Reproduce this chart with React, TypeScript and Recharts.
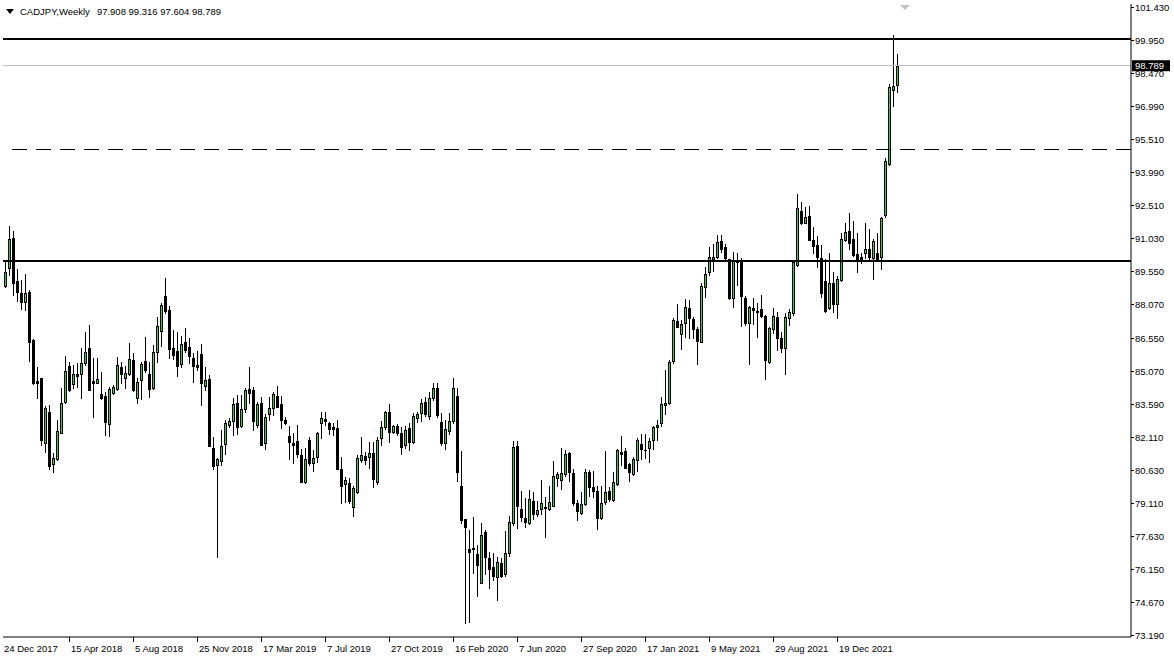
import React from 'react';
import { ComposedChart, Bar, XAxis, YAxis, ReferenceLine, ReferenceArea } from 'recharts';

const FONT = '"Liberation Sans", Arial, sans-serif';
const UP_COLOR = '#22dd22';

const symbolTitle = 'CADJPY,Weekly';
const lastQuote = '97.908 99.316 97.604 98.789';
const firstWeek = Date.UTC(2017, 11, 24);
const MONTHS = ['Jan', 'Feb', 'Mar', 'Apr', 'May', 'Jun', 'Jul', 'Aug', 'Sep', 'Oct', 'Nov', 'Dec'];

const opens = [
  88.90, 89.71, 91.03, 89.11, 88.57, 88.18, 88.60, 86.44, 84.63, 84.73,
  81.81, 83.23, 80.86, 81.12, 82.29, 83.68, 85.29, 84.46, 84.93, 84.91,
  85.44, 86.11, 84.61, 84.51, 84.03, 83.94, 82.69, 84.06, 84.25, 85.23,
  84.73, 84.94, 85.56, 83.83, 84.66, 85.51, 84.93, 84.28, 85.91, 86.88,
  88.43, 87.80, 86.08, 85.96, 85.39, 86.37, 86.13, 85.65, 85.33, 85.81,
  84.40, 84.70, 81.58, 80.82, 81.03, 81.79, 82.65, 82.83, 83.61, 82.60,
  83.34, 84.25, 84.21, 82.63, 83.62, 81.84, 83.14, 83.40, 83.94, 83.56,
  82.86, 82.15, 81.81, 81.91, 81.28, 80.09, 81.96, 80.91, 81.18, 82.71,
  82.90, 82.71, 82.53, 82.48, 80.66, 79.97, 80.01, 78.93, 79.61, 81.06,
  81.24, 81.21, 81.39, 80.06, 82.06, 82.53, 83.20, 82.33, 82.59, 82.26,
  81.73, 82.48, 81.88, 82.93, 83.19, 83.67, 83.04, 83.83, 84.28, 82.78,
  81.84, 82.36, 82.83, 83.94, 79.89, 78.39, 77.06, 77.09, 76.83, 75.54,
  77.81, 76.64, 76.23, 75.78, 76.41, 75.93, 76.86, 78.24, 81.69, 78.84,
  78.44, 78.24, 79.22, 78.63, 78.84, 78.96, 78.84, 79.01, 80.27, 80.16,
  80.42, 81.36, 80.46, 79.11, 78.69, 79.08, 80.51, 79.86, 79.67, 78.44,
  79.19, 79.67, 79.26, 79.97, 81.40, 81.46, 80.86, 80.42, 81.06, 81.76,
  81.51, 81.58, 81.94, 82.53, 82.71, 83.53, 83.61, 85.51, 87.31, 86.71,
  87.20, 87.88, 87.40, 86.95, 86.38, 88.82, 89.50, 90.11, 90.20, 90.89,
  90.62, 90.08, 88.33, 90.05, 90.05, 88.33, 87.20, 87.88, 87.76, 87.85,
  87.54, 85.48, 86.94, 87.47, 86.55, 86.08, 87.43, 87.66, 89.83, 92.26,
  91.73, 92.03, 90.95, 90.73, 90.13, 89.11, 87.88, 89.00, 88.06, 89.15,
  90.95, 91.37, 90.98, 90.32, 90.17, 90.38, 90.53, 90.16, 90.38, 90.20,
  92.08, 94.37, 97.72, 97.908,
];

const highs = [
  89.98, 91.60, 91.36, 89.65, 89.14, 89.41, 88.69, 86.50, 85.26, 84.75,
  83.49, 83.53, 81.36, 82.86, 84.28, 85.74, 85.48, 85.33, 85.44, 86.08,
  86.83, 87.13, 85.63, 85.63, 85.03, 84.13, 84.36, 84.43, 85.69, 85.48,
  85.30, 86.32, 85.89, 84.73, 85.45, 86.58, 85.48, 86.23, 87.50, 88.10,
  89.24, 87.98, 86.90, 86.83, 86.65, 86.98, 86.53, 85.86, 85.96, 86.28,
  85.23, 84.88, 82.11, 81.15, 82.41, 82.86, 82.93, 83.86, 83.98, 83.98,
  84.31, 85.24, 84.33, 83.68, 83.91, 83.13, 83.88, 84.12, 84.39, 83.94,
  83.01, 82.59, 82.26, 82.63, 81.54, 81.58, 82.11, 81.51, 82.33, 83.23,
  83.23, 82.78, 82.71, 82.86, 81.18, 80.28, 80.24, 79.89, 81.28, 82.11,
  81.43, 81.88, 81.88, 82.11, 82.83, 83.26, 83.59, 82.63, 82.66, 82.53,
  82.59, 82.71, 83.19, 83.23, 83.79, 83.91, 84.13, 84.51, 84.51, 83.16,
  82.86, 83.16, 84.73, 84.28, 81.46, 78.39, 77.91, 78.51, 77.24, 78.21,
  77.91, 76.94, 76.86, 76.68, 76.64, 77.88, 78.54, 81.91, 81.91, 79.67,
  79.34, 79.71, 79.64, 79.23, 80.16, 79.41, 79.89, 81.03, 80.54, 81.58,
  81.51, 81.43, 80.65, 79.26, 79.61, 80.65, 80.61, 80.57, 79.89, 79.89,
  81.46, 79.86, 80.51, 81.54, 82.14, 81.58, 80.94, 81.18, 82.03, 82.21,
  82.23, 82.03, 82.60, 82.86, 83.88, 85.11, 85.56, 87.43, 88.07, 87.36,
  88.28, 88.25, 87.50, 87.03, 89.03, 89.75, 90.65, 90.77, 91.18, 91.18,
  90.77, 90.10, 90.40, 90.35, 90.16, 88.43, 87.98, 88.33, 88.13, 88.48,
  87.56, 87.03, 87.91, 87.73, 86.83, 87.66, 87.83, 90.05, 93.02, 92.68,
  92.45, 92.48, 91.55, 91.15, 90.73, 90.08, 90.38, 89.53, 89.33, 91.25,
  91.70, 92.15, 91.81, 91.28, 90.35, 91.70, 91.43, 90.98, 91.28, 92.00,
  94.64, 97.97, 100.17, 99.316,
];

const lows = [
  88.85, 89.38, 88.48, 88.21, 87.85, 87.80, 85.51, 84.49, 83.83, 81.73,
  81.40, 80.65, 80.53, 81.06, 82.26, 83.61, 84.18, 84.28, 84.36, 83.86,
  85.33, 84.21, 83.01, 84.50, 83.80, 82.18, 82.15, 84.01, 84.21, 84.51,
  84.28, 84.88, 84.16, 83.64, 83.80, 85.03, 83.88, 84.24, 85.48, 86.19,
  87.69, 85.66, 85.59, 84.85, 85.26, 85.93, 85.44, 84.58, 85.11, 83.55,
  84.21, 81.68, 80.67, 76.68, 80.85, 81.31, 82.56, 82.20, 82.23, 82.56,
  83.23, 83.64, 82.41, 82.56, 81.72, 81.57, 82.86, 83.08, 83.44, 82.51,
  82.66, 81.12, 80.94, 81.18, 80.05, 80.01, 80.83, 80.58, 80.98, 82.03,
  82.63, 82.21, 82.18, 80.64, 79.11, 79.19, 79.11, 78.54, 79.59, 80.98,
  80.88, 80.68, 79.83, 79.98, 81.73, 82.44, 81.88, 82.26, 82.18, 81.33,
  81.58, 81.51, 81.84, 82.78, 82.83, 83.05, 82.89, 83.76, 83.01, 81.73,
  81.55, 82.23, 82.71, 80.12, 78.24, 73.71, 73.79, 75.99, 74.95, 75.51,
  75.93, 75.32, 75.66, 74.77, 75.81, 75.84, 76.76, 78.14, 78.02, 78.32,
  78.06, 78.18, 78.39, 78.56, 78.63, 77.61, 78.81, 78.98, 79.91, 79.76,
  80.34, 80.12, 79.04, 78.36, 78.63, 79.04, 79.44, 79.41, 77.94, 78.42,
  79.08, 79.23, 79.23, 79.94, 80.83, 80.69, 80.13, 80.39, 80.58, 81.09,
  81.13, 80.98, 81.54, 81.96, 82.59, 83.13, 83.56, 85.44, 87.03, 86.05,
  86.58, 86.53, 86.53, 85.38, 86.35, 88.40, 89.38, 89.57, 90.13, 90.43,
  90.05, 88.30, 87.92, 88.93, 87.09, 87.13, 85.38, 87.18, 86.58, 87.51,
  84.69, 85.41, 86.75, 86.01, 85.93, 84.91, 87.13, 87.58, 89.80, 91.66,
  91.70, 90.93, 90.38, 89.72, 88.37, 87.70, 87.84, 87.73, 87.43, 89.12,
  90.92, 90.53, 90.23, 89.53, 89.93, 90.13, 90.05, 89.21, 90.02, 89.63,
  91.99, 94.33, 96.98, 97.604,
];

const closes = [
  89.53, 91.00, 89.03, 88.60, 88.15, 88.57, 86.38, 84.54, 84.54, 81.96,
  83.38, 80.80, 81.16, 82.36, 83.61, 85.06, 84.21, 84.93, 84.85, 85.41,
  85.93, 84.22, 84.51, 84.70, 83.86, 82.78, 84.25, 84.36, 85.32, 84.94,
  84.97, 85.59, 84.22, 84.55, 85.36, 85.09, 84.25, 85.90, 87.08, 88.03,
  87.77, 86.07, 85.80, 85.30, 86.28, 86.01, 85.75, 85.30, 85.26, 84.54,
  84.66, 81.70, 80.80, 81.10, 81.69, 82.71, 82.81, 83.58, 82.56, 83.35,
  84.21, 84.09, 82.80, 83.58, 81.75, 83.01, 83.38, 84.03, 83.46, 82.86,
  82.74, 81.87, 81.72, 81.31, 80.09, 81.09, 80.91, 81.13, 82.26, 82.93,
  82.83, 82.47, 82.47, 80.67, 79.91, 80.16, 79.23, 79.80, 81.13, 81.28,
  81.06, 81.37, 80.22, 81.96, 82.53, 83.22, 82.30, 82.59, 82.26, 81.66,
  82.41, 81.88, 83.04, 83.11, 83.61, 83.11, 83.83, 84.28, 83.08, 81.81,
  82.45, 82.81, 84.28, 80.53, 78.36, 78.03, 76.94, 77.06, 76.34, 77.69,
  76.71, 76.16, 75.84, 76.49, 75.86, 76.86, 78.26, 81.63, 79.01, 78.51,
  78.26, 79.31, 78.63, 78.81, 79.11, 78.89, 79.16, 80.34, 80.42, 80.46,
  81.31, 80.54, 79.14, 78.78, 79.07, 80.51, 79.86, 79.68, 78.47, 79.11,
  79.61, 79.29, 80.09, 81.51, 81.34, 80.71, 80.51, 81.09, 81.96, 81.54,
  81.50, 81.93, 82.56, 82.62, 83.56, 83.62, 85.48, 87.36, 87.06, 87.16,
  87.95, 87.46, 86.95, 86.43, 88.88, 89.42, 90.20, 90.17, 90.88, 90.55,
  90.13, 88.36, 90.02, 89.98, 88.45, 87.23, 87.92, 87.81, 87.73, 87.54,
  85.56, 86.98, 87.54, 86.55, 86.08, 87.47, 87.73, 89.98, 92.38, 91.70,
  91.99, 90.95, 90.68, 90.17, 88.55, 87.78, 89.00, 88.06, 89.18, 90.98,
  91.33, 90.80, 90.28, 90.02, 90.11, 90.53, 90.17, 90.92, 90.05, 91.93,
  94.50, 97.83, 97.90, 98.789,
];

const yTickValues = [
  101.43, 99.95, 98.47, 96.99, 95.51, 93.99, 92.51, 91.03, 89.55, 88.07,
  86.55, 85.07, 83.59, 82.11, 80.63, 79.11, 77.63, 76.15, 74.67, 73.19,
];
const xTickWeeks = [0, 16, 32, 48, 64, 80, 96, 112, 128, 144, 160, 176, 192, 208];
const resistanceLevels = [100.0, 90.0];
const dashedLevel = 95.0;
const lastPrice = 98.789;

const TOTAL_SLOTS = 282;
const Y_DOMAIN: [number, number] = [73.1001, 101.5649];

const weekLabel = (i: number) => {
  const d = new Date(firstWeek + i * 7 * 86400000);
  return `${d.getUTCDate()} ${MONTHS[d.getUTCMonth()]} ${d.getUTCFullYear()}`;
};

const data = Array.from({ length: TOTAL_SLOTS }, (_, i) =>
  i < opens.length
    ? {
        idx: i,
        date: weekLabel(i),
        open: opens[i],
        high: highs[i],
        low: lows[i],
        close: closes[i],
        range: [lows[i], highs[i]],
      }
    : { idx: i, date: weekLabel(i) }
);

const Candle = (props: any) => {
  const { x, y, width, height, payload } = props;
  if (!payload || payload.open == null || x == null) return null;
  const { open, close, high, low } = payload;
  const yTop = Math.min(y, y + height);
  const yBot = Math.max(y, y + height);
  const span = high - low;
  const per = span > 0 ? (yBot - yTop) / span : 0;
  const yOf = (v: number) => yTop + (high - v) * per;
  const cx = Math.round(x + width / 2);
  const hy = Math.round(yTop);
  const ly = Math.round(yBot);
  const bt = Math.round(yOf(Math.max(open, close)));
  const bb = Math.round(yOf(Math.min(open, close)));
  const up = close > open;
  return (
    <g shapeRendering="crispEdges">
      <line x1={cx + 0.5} x2={cx + 0.5} y1={hy} y2={ly + 1} stroke="#000" strokeWidth={1} />
      {up ? (
        <rect x={cx - 0.5} y={bt + 0.5} width={2} height={Math.max(bb - bt, 1)} fill={UP_COLOR} stroke="#000" strokeWidth={1} />
      ) : (
        <rect x={cx - 1} y={bt} width={3} height={Math.max(bb - bt + 1, 1)} fill="#000" />
      )}
    </g>
  );
};

const XTick = (props: any) => {
  const { x, y, payload } = props;
  const label = weekLabel(Number(payload.value));
  const px = Math.round(x);
  return (
    <g>
      {Number(payload.value) > 0 && (
        <line x1={px + 0.5} x2={px + 0.5} y1={y} y2={y + 5} stroke="#000" strokeWidth={1} shapeRendering="crispEdges" />
      )}
      <text x={Number(payload.value) > 0 ? px + 2 : 4} y={y + 15} fontSize={9.5} fontFamily={FONT} fill="#000" textAnchor="start">
        {label}
      </text>
    </g>
  );
};

const YTick = (props: any) => {
  const { x, y, payload } = props;
  const py = Math.round(y);
  return (
    <g>
      <line x1={x} x2={x + 3} y1={py + 0.5} y2={py + 0.5} stroke="#000" strokeWidth={1} shapeRendering="crispEdges" />
      <text x={x + 4} y={py + 3.5} fontSize={9.5} fontFamily={FONT} fill="#000" textAnchor="start">
        {Number(payload.value).toFixed(3)}
      </text>
    </g>
  );
};

const PriceTag = (props: any) => {
  const vb = props.viewBox || {};
  const right = vb.x + vb.width;
  const cy = vb.y;
  return (
    <g>
      <rect x={right + 1} y={cy - 5.5} width={38} height={11} fill="#000" />
      <text x={right + 4} y={cy + 3.5} fontSize={9.5} fontFamily={FONT} fill="#fff" textAnchor="start">
        {lastPrice.toFixed(3)}
      </text>
    </g>
  );
};

export default function App() {
  return (
    <div
      style={{
        position: 'absolute',
        left: 0,
        top: 0,
        width: 1174,
        height: 660,
        background: '#fff',
        overflow: 'hidden',
      }}
    >
      <ComposedChart
        width={1174}
        height={660}
        data={data}
        margin={{ top: 4, right: 0, left: 3, bottom: 0 }}
        barCategoryGap={0}
      >
        <XAxis
          dataKey="idx"
          type="category"
          ticks={xTickWeeks}
          interval={0}
          height={23}
          tickSize={0}
          tickMargin={0}
          tickLine={false}
          axisLine={{ stroke: '#000' }}
          tick={<XTick />}
        />
        <YAxis
          orientation="right"
          type="number"
          domain={Y_DOMAIN}
          allowDataOverflow
          ticks={yTickValues}
          interval={0}
          width={43}
          tickSize={0}
          tickMargin={0}
          tickLine={false}
          axisLine={{ stroke: '#000' }}
          tick={<YTick />}
        />
        <ReferenceArea fill="none" stroke="#000" strokeWidth={1} shapeRendering="crispEdges" />
        <ReferenceLine
          y={dashedLevel}
          stroke="#000"
          strokeWidth={1}
          strokeDasharray="15 9"
          shapeRendering="crispEdges"
        />
        {resistanceLevels.map((lv) => (
          <ReferenceLine key={lv} y={lv} stroke="#000" strokeWidth={2} shapeRendering="crispEdges" />
        ))}
        <Bar dataKey="range" isAnimationActive={false} shape={(p: any) => <Candle {...p} />} />
        <ReferenceLine y={lastPrice} stroke="#c0c0c0" strokeWidth={1} shapeRendering="crispEdges" label={<PriceTag />} />
      </ComposedChart>
      <div
        style={{
          position: 'absolute',
          left: 6,
          top: 6,
          fontFamily: FONT,
          fontSize: 9.5,
          color: '#000',
          whiteSpace: 'pre',
          display: 'flex',
          alignItems: 'center',
        }}
      >
        <svg width={9} height={6} style={{ marginRight: 5 }}>
          <polygon points="0,0 8,0 4,5" fill="#000" />
        </svg>
        <span>{symbolTitle}</span>
        <span style={{ marginLeft: 7 }}>{lastQuote}</span>
      </div>
      <svg style={{ position: 'absolute', left: 0, top: 0 }} width={1174} height={660} pointerEvents="none">
        <polygon points="900,5 910,5 905,10" fill="#c0c0c0" />
      </svg>
    </div>
  );
}
